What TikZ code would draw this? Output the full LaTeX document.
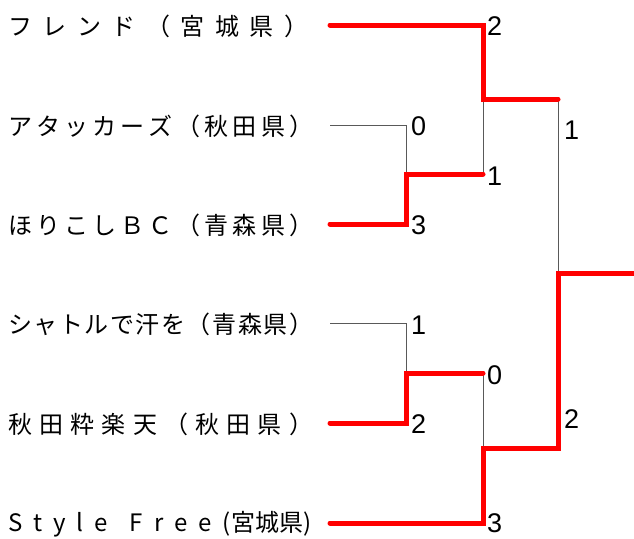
\documentclass[tikz,border=0pt]{standalone}
\usepackage{fontspec}
\setmainfont{Liberation Sans}
\newfontfamily\jpfont{Noto Sans CJK JP}

% spread the characters of a team name over a fixed width
\makeatletter
\def\spreadchars#1{\spr@a#1\relax}
\def\spr@a#1{#1\futurelet\spr@next\spr@b}
\def\spr@b{\ifx\spr@next\relax\expandafter\@gobble\else\hfil\expandafter\spr@a\fi}
\makeatother
\newcommand\spreadname[2]{\makebox[#1][s]{\spreadchars{#2}}}

\begin{document}
\begin{tikzpicture}[x=1pt,y=-1pt,
    team/.style={anchor=west,inner sep=0pt,font=\jpfont\fontsize{24}{24}\selectfont},
    score/.style={anchor=west,inner sep=0pt,font=\fontsize{27}{27}\selectfont},
    win/.style={red,line width=5pt,line cap=round},
    lose/.style={black!65,line width=1pt}]
    \useasboundingbox (0,0) rectangle (634,538);

    % team names
    \node[team] (friend)    at (8,26)  {\spreadname{300pt}{フレンド（宮城県）}};
    \node[team] (attackers) at (8,126) {\spreadname{305pt}{アタッカーズ（秋田県）}};
    \node[team] (horikoshi) at (8,225) {\spreadname{305pt}{ほりこしＢＣ（青森県）}};
    \node[team] (shuttle)   at (8,324) {\spreadname{305pt}{シャトルで汗を（青森県）}};
    \node[team] (akita)     at (8,424) {\spreadname{305pt}{秋田粋楽天（秋田県）}};
    \node[team] (stylefree) at (8,524) {\spreadname{303pt}{Style{}Free{(宮城県)}}};

    % bracket points
    \foreach \n/\y in {a/25,b/125,c/224,d/323,e/423,f/523}
        \coordinate (\n0) at (330,\y);
    \coordinate (b1) at (406,125);
    \coordinate (c1) at (406,224);
    \coordinate (bc) at (406,174);
    \coordinate (bc2) at (483,174);
    \coordinate (d1) at (406,323);
    \coordinate (e1) at (406,423);
    \coordinate (de) at (406,373);
    \coordinate (de2) at (483,373);
    \coordinate (a1) at (483,25);
    \coordinate (top) at (483,99);
    \coordinate (top2) at (558,99);
    \coordinate (f1) at (483,523);
    \coordinate (bot) at (483,448);
    \coordinate (bot2) at (558,448);
    \coordinate (fin) at (558,273);
    \coordinate (champ) at (634,273);

    % losers
    \draw[lose] (b0) -- (b1) -- (bc);
    \draw[lose] (d0) -- (d1) -- (de);
    \draw[lose] (bc2) -- (top);
    \draw[lose] (de2) -- (bot);
    \draw[lose] (top2) -- (fin);

    % winners
    \draw[win] (a0) -- (a1) -- (top) -- (top2);
    \draw[win] (c0) -- (c1) -- (bc) -- (bc2);
    \draw[win] (e0) -- (e1) -- (de) -- (de2);
    \draw[win] (f0) -- (f1) -- (bot) -- (bot2) -- (fin) -- (champ);

    % scores
    \node[score] (s-friend)    at (487,26)  {2};
    \node[score] (s-attackers) at (411,126) {0};
    \node[score] (s-horikoshi) at (411,225) {3};
    \node[score] (s-semi1)     at (487,176) {1};
    \node[score] (s-shuttle)   at (411,325) {1};
    \node[score] (s-akita)     at (411,424) {2};
    \node[score] (s-semi2)     at (487,375) {0};
    \node[score] (s-stylefree) at (487,523) {3};
    \node[score] (s-final1)    at (564,130) {1};
    \node[score] (s-final2)    at (564,419) {2};
\end{tikzpicture}
\end{document}
